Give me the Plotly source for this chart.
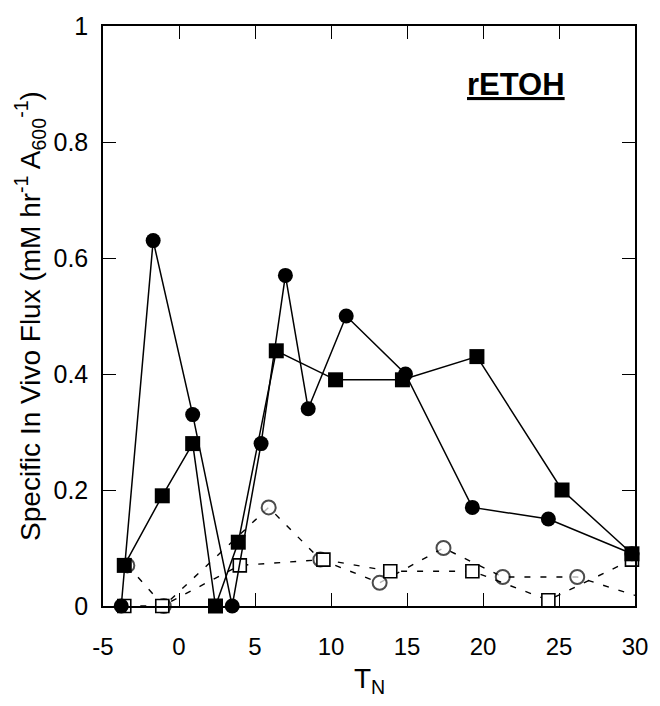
import plotly.graph_objects as go

# Data
filled_circle_x = [-3.8, -1.7, 0.9, 3.5, 5.4, 7.0, 8.5, 11.0, 14.9, 19.3, 24.3, 29.8]
filled_circle_y = [0.0, 0.63, 0.33, 0.0, 0.28, 0.57, 0.34, 0.50, 0.40, 0.17, 0.15, 0.09]

filled_square_x = [-3.6, -1.1, 0.9, 2.4, 3.9, 6.4, 10.3, 14.7, 19.6, 25.2, 29.8]
filled_square_y = [0.07, 0.19, 0.28, 0.0, 0.11, 0.44, 0.39, 0.39, 0.43, 0.20, 0.09]

open_circle_x = [-3.4, -1.0, 5.9, 9.3, 13.2, 17.4, 21.3, 26.2, 31.0]
open_circle_y = [0.07, 0.0, 0.17, 0.08, 0.04, 0.10, 0.05, 0.05, 0.01]

open_square_x = [-3.6, -1.1, 4.0, 9.5, 13.9, 19.3, 24.3, 29.8]
open_square_y = [0.0, 0.0, 0.07, 0.08, 0.06, 0.06, 0.01, 0.08]

x_ticks = [-5, 0, 5, 10, 15, 20, 25, 30]
x_tick_labels = ["-5", "0", "5", "10", "15", "20", "25", "30"]
y_ticks = [0, 0.2, 0.4, 0.6, 0.8, 1]
y_tick_labels = ["0", "0.2", "0.4", "0.6", "0.8", "1"]

FONT = "Liberation Sans, Arial, sans-serif"

fig = go.Figure()

oc_sizes = [14] * (len(open_circle_x) - 1) + [0]
fig.add_trace(go.Scatter(
    x=open_circle_x, y=open_circle_y, mode="lines+markers",
    line=dict(color="black", width=1.4, dash="6px,10px"),
    marker=dict(symbol="circle", size=oc_sizes, color="white",
                line=dict(color="black", width=2)),
    cliponaxis=False, showlegend=False))

fig.add_trace(go.Scatter(
    x=open_square_x, y=open_square_y, mode="lines+markers",
    line=dict(color="black", width=1.4, dash="6px,10px"),
    marker=dict(symbol="square", size=13, color="white",
                line=dict(color="black", width=1.6)),
    cliponaxis=False, showlegend=False))

fig.add_trace(go.Scatter(
    x=filled_square_x, y=filled_square_y, mode="lines+markers",
    line=dict(color="black", width=1.5),
    marker=dict(symbol="square", size=15, color="black"),
    cliponaxis=False, showlegend=False))

fig.add_trace(go.Scatter(
    x=filled_circle_x, y=filled_circle_y, mode="lines+markers",
    line=dict(color="black", width=1.5),
    marker=dict(symbol="circle", size=15, color="black"),
    cliponaxis=False, showlegend=False))

fig.add_annotation(
    x=22.2, y=0.90, xref="x", yref="y",
    text="<b><u>rETOH</u></b>", showarrow=False,
    font=dict(family=FONT, size=31, color="black"))

fig.add_annotation(
    x=0.5, y=-0.128, xref="paper", yref="paper", yanchor="middle",
    text="T<sub>N</sub>", showarrow=False,
    font=dict(family=FONT, size=28, color="black"))

fig.update_xaxes(
    range=[-5, 30], tickvals=x_ticks, ticktext=x_tick_labels,
    ticks="inside", ticklen=13, tickwidth=1.3,
    tickcolor="black", mirror="ticks", showline=True, linecolor="black", linewidth=2.2,
    showgrid=False, zeroline=False, ticklabelstandoff=18,
    tickfont=dict(family=FONT, size=24, color="black"))

fig.update_yaxes(
    range=[0, 1], tickvals=y_ticks, ticktext=y_tick_labels, ticks="inside",
    ticklen=13, tickwidth=1.3, tickcolor="black", mirror="ticks", showline=True,
    linecolor="black", linewidth=1.5, showgrid=False, zeroline=False,
    ticklabelstandoff=8,
    tickfont=dict(family=FONT, size=25, color="black"),
    title=dict(text="Specific In Vivo Flux (mM hr<sup>-1</sup> A<sub>600</sub><sup>-1</sup>)",
               font=dict(family=FONT, size=28, color="black"), standoff=5))

fig.update_layout(
    width=660, height=706,
    margin=dict(l=103, r=25, t=26, b=100),
    plot_bgcolor="white", paper_bgcolor="white",
    font=dict(family=FONT, color="black"))

fig.write_html("out.html")
